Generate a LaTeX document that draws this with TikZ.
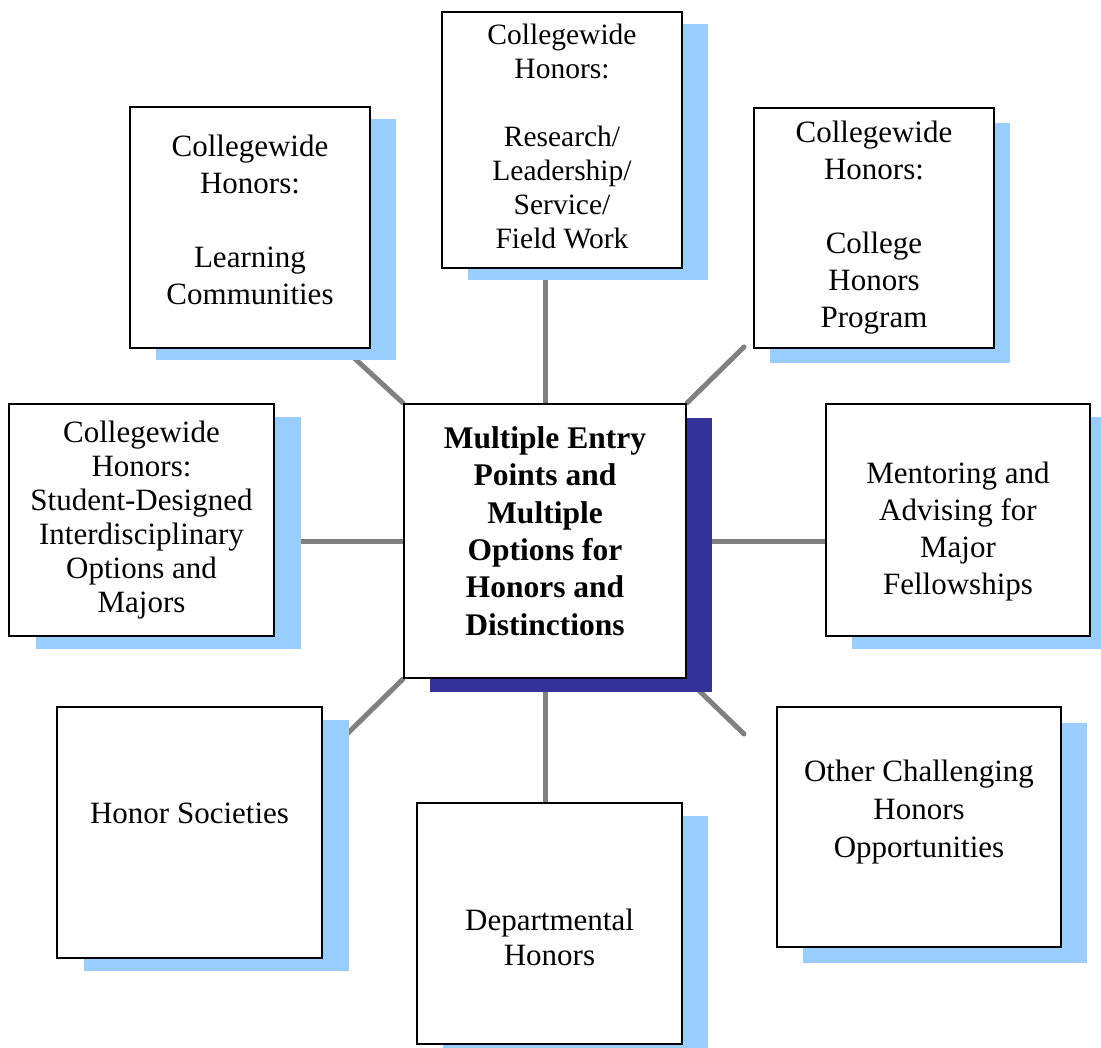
\documentclass[tikz,border=0pt]{standalone}
\usepackage{fontspec}
\setmainfont{Liberation Serif}
\usetikzlibrary{shadows,backgrounds}
\definecolor{skyshadow}{RGB}{153,204,255}
\definecolor{navyshadow}{RGB}{51,51,153}
\definecolor{linkgray}{RGB}{128,128,128}

\begin{document}
\begin{tikzpicture}[x=1pt,y=-1pt,
    box/.style={draw=black, line width=2.5pt, fill=white, inner sep=0pt},
    boxshadow/.style 2 args={drop shadow={shadow xshift=#1, shadow yshift=#2,
        fill=skyshadow, opacity=1}},
    boxtext/.style={align=center, inner sep=0pt, font=\fontsize{31}{37}\selectfont},
    link/.style={linkgray, line width=5pt, line cap=round}]
    \useasboundingbox (0,0) rectangle (1101,1048);

    % central box
    \node[box, minimum width=282pt, minimum height=274pt,
        drop shadow={shadow xshift=26pt, shadow yshift=-14pt, fill=navyshadow, opacity=1}]
        (center) at (545,541) {};
    \node[boxtext, font=\fontsize{31.5}{37.4}\selectfont\bfseries] (centertext)
        at ([yshift=10pt]center.center)
        {Multiple Entry\\Points and\\Multiple\\Options for\\Honors and\\Distinctions};

    % top row
    \node[box, boxshadow={26pt}{-12pt}, minimum width=240pt, minimum height=241pt]
        (tl) at (250,227.5) {};
    \node[boxtext] (tltext) at ([yshift=8pt]tl.center)
        {Collegewide\\Honors:\\[37pt]Learning\\Communities};
    \node[box, boxshadow={26pt}{-12pt}, minimum width=240pt, minimum height=256pt]
        (tc) at (562,140) {};
    \node[boxtext, font=\fontsize{29.5}{34}\selectfont] (tctext) at ([yshift=4pt]tc.center)
        {Collegewide\\Honors:\\[34pt]Research/\\Leadership/\\Service/\\Field Work};
    \node[box, boxshadow={16pt}{-15pt}, minimum width=240pt, minimum height=240pt]
        (tr) at (874,228) {};
    \node[boxtext] (trtext) at (tr.center)
        {Collegewide\\Honors:\\[37pt]College\\Honors\\Program};

    % middle row
    \node[box, boxshadow={27pt}{-13pt}, minimum width=265pt, minimum height=232pt]
        (ml) at (141.5,520) {};
    \node[boxtext, font=\fontsize{31}{34}\selectfont] (mltext) at (ml.center)
        {Collegewide\\Honors:\\Student-Designed\\Interdisciplinary\\Options and\\Majors};
    \node[box, boxshadow={26pt}{-13pt}, minimum width=264pt, minimum height=232pt]
        (mr) at (958,520) {};
    \node[boxtext] (mrtext) at ([yshift=-12pt]mr.center)
        {Mentoring and\\Advising for\\Major\\Fellowships};

    % bottom row
    \node[box, boxshadow={27pt}{-13pt}, minimum width=265pt, minimum height=251pt]
        (bl) at (189.5,832.5) {};
    \node[boxtext] (bltext) at ([yshift=19pt]bl.center) {Honor Societies};
    \node[box, boxshadow={26pt}{-13pt}, minimum width=265pt, minimum height=241pt]
        (bc) at (549.5,923.5) {};
    \node[boxtext, font=\fontsize{31}{35}\selectfont] (bctext) at ([yshift=-14pt]bc.center)
        {Departmental\\Honors};
    \node[box, boxshadow={26pt}{-16pt}, minimum width=284pt, minimum height=240pt]
        (br) at (919,827) {};
    \node[boxtext, font=\fontsize{31}{38}\selectfont] (brtext) at ([yshift=15pt]br.center)
        {Other Challenging\\Honors\\Opportunities};

    % connectors
    \coordinate (tlend) at (352,356);
    \coordinate (trend) at (744,347);
    \coordinate (blend) at (346,735);
    \coordinate (brend) at (744,734);
    \begin{pgfonlayer}{background}
        \draw[link] (center.north) -- (center.north |- tc.south);
        \draw[link] (center.north west) -- (tlend);
        \draw[link] (center.north east) -- (trend);
        \draw[link] (center.west) -- (center.west -| ml.east);
        \draw[link] (center.east) -- (center.east -| mr.west);
        \draw[link] (center.south west) -- (blend);
        \draw[link] (center.south) -- (center.south |- bc.north);
        \draw[link] (center.south east) -- (brend);
    \end{pgfonlayer}
\end{tikzpicture}
\end{document}
